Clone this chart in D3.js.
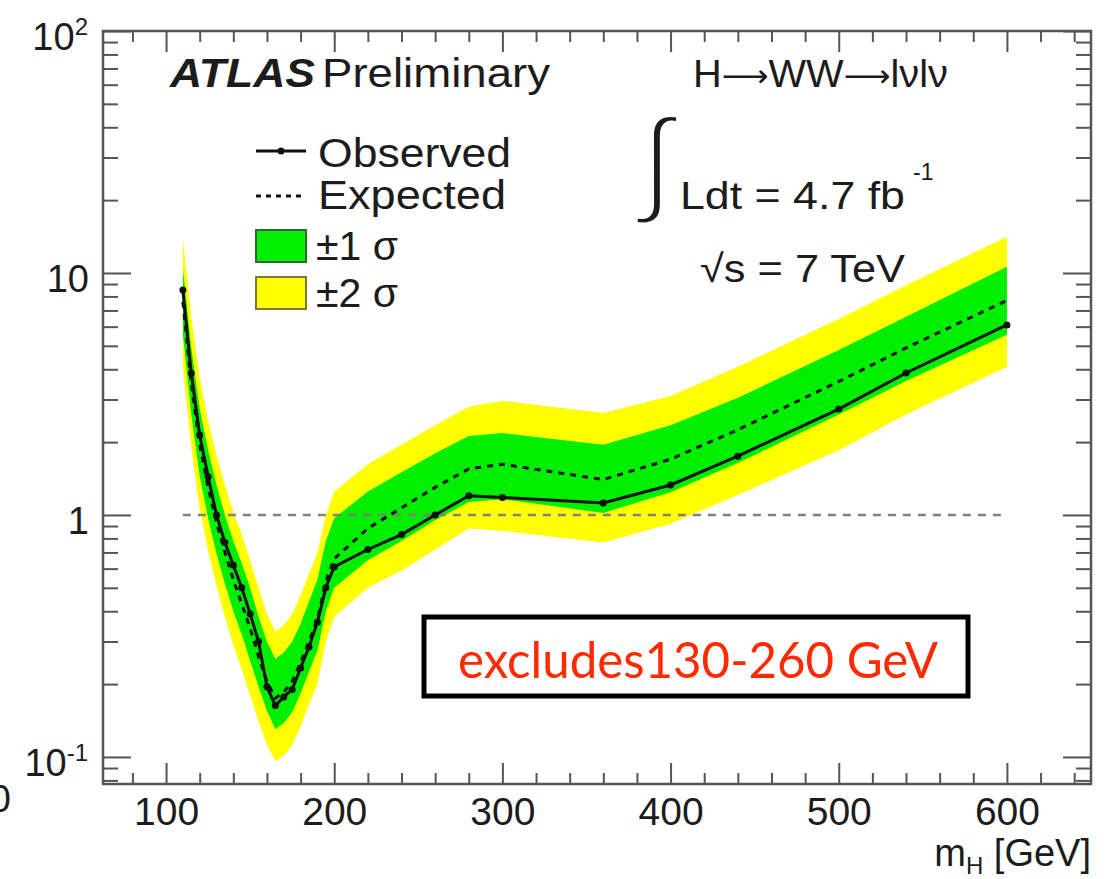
<!DOCTYPE html>
<html>
<head>
<meta charset="utf-8">
<script src="https://cdn.jsdelivr.net/npm/d3@7"></script>
<style>
  body { margin: 0; background: #fff; }
  svg { display: block; }
  text { font-family: "Liberation Sans", Arial, Helvetica, sans-serif; fill: #1c1c1c; }
</style>
</head>
<body>
<svg id="chart" width="1108" height="879"></svg>
<script>
// Higgs mass hypotheses [GeV]
const massPoints = [110, 115, 120, 125, 130, 135, 140, 145, 150, 155, 160, 165, 170, 175, 180, 185, 190, 195, 200,
                    220, 240, 260, 280, 300, 360, 400, 440, 500, 540, 600];
// 95% CL upper limit on sigma/sigma_SM, observed
const observed = [8.5, 3.85, 2.14, 1.44, 1.0, 0.77, 0.62, 0.50, 0.39, 0.30, 0.195, 0.163, 0.177, 0.19, 0.233, 0.285, 0.36, 0.50, 0.61,
                  0.72, 0.83, 1.0, 1.2, 1.18, 1.12, 1.33, 1.75, 2.74, 3.86, 6.1];
// median expected limit
const expected = [7.6, 3.5, 1.95, 1.3, 0.93, 0.70, 0.54, 0.43, 0.34, 0.26, 0.205, 0.175, 0.185, 0.205, 0.245, 0.30, 0.37, 0.53, 0.66,
                  0.88, 1.07, 1.30, 1.55, 1.62, 1.40, 1.70, 2.25, 3.56, 4.9, 7.7];
// expected +/- 1 sigma band
const sigma1Up   = [10.4, 4.9, 2.75, 1.85, 1.33, 1.0, 0.78, 0.63, 0.50, 0.38, 0.30, 0.254, 0.27, 0.30, 0.355, 0.44, 0.54, 0.78, 0.97,
                    1.25, 1.50, 1.80, 2.12, 2.18, 1.95, 2.35, 3.05, 4.8, 6.6, 10.6];
const sigma1Down = [5.6, 2.6, 1.45, 0.97, 0.69, 0.52, 0.40, 0.32, 0.25, 0.195, 0.155, 0.130, 0.138, 0.153, 0.183, 0.225, 0.275, 0.40, 0.50,
                    0.65, 0.78, 0.95, 1.13, 1.16, 1.02, 1.24, 1.64, 2.6, 3.58, 5.55];
// expected +/- 2 sigma band
const sigma2Up   = [13.9, 6.6, 3.7, 2.45, 1.76, 1.33, 1.03, 0.83, 0.65, 0.50, 0.39, 0.33, 0.35, 0.39, 0.465, 0.57, 0.70, 1.0, 1.25,
                    1.62, 1.95, 2.35, 2.80, 2.96, 2.64, 3.1, 4.1, 6.45, 8.9, 14.1];
const sigma2Down = [4.1, 1.9, 1.06, 0.71, 0.51, 0.38, 0.29, 0.23, 0.18, 0.14, 0.112, 0.096, 0.101, 0.112, 0.134, 0.165, 0.20, 0.30, 0.38,
                    0.50, 0.59, 0.72, 0.88, 0.86, 0.77, 0.92, 1.21, 1.85, 2.6, 4.1];

// axis tick labels
const xTickLabels = [100, 200, 300, 400, 500, 600];
const yTickLabels = [
  { value: 0.1, base: "10", sup: "-1" },
  { value: 1,   base: "1",  sup: "" },
  { value: 10,  base: "10", sup: "" },
  { value: 100, base: "10", sup: "2" }
];

const svg = d3.select("#chart");
const frame = { left: 103, right: 1091, top: 31, bottom: 784 };

const x = d3.scaleLinear().domain([62.5, 650]).range([frame.left, frame.right]);
const y = d3.scaleLog().domain([0.0773, 100]).range([frame.bottom, frame.top]);

const rows = massPoints.map((m, i) => ({
  m, obs: observed[i], exp: expected[i],
  u1: sigma1Up[i], d1: sigma1Down[i], u2: sigma2Up[i], d2: sigma2Down[i]
}));

const GREEN = "#00ee00", YELLOW = "#ffff00";

// bands
const plot = svg.append("g");
plot.append("path").datum(rows)
  .attr("fill", YELLOW)
  .attr("d", d3.area().x(d => x(d.m)).y0(d => y(d.d2)).y1(d => y(d.u2)));
plot.append("path").datum(rows)
  .attr("fill", GREEN)
  .attr("d", d3.area().x(d => x(d.m)).y0(d => y(d.d1)).y1(d => y(d.u1)));

// reference line at sigma/sigma_SM = 1
plot.append("line")
  .attr("x1", x(massPoints[0])).attr("x2", x(massPoints[massPoints.length - 1]))
  .attr("y1", y(1)).attr("y2", y(1))
  .attr("stroke", "#808080").attr("stroke-width", 2.5).attr("stroke-dasharray", "8,7");

// expected limit
plot.append("path").datum(rows)
  .attr("fill", "none").attr("stroke", "#111").attr("stroke-width", 3)
  .attr("stroke-dasharray", "6,6")
  .attr("d", d3.line().x(d => x(d.m)).y(d => y(d.exp)));

// observed limit
plot.append("path").datum(rows)
  .attr("fill", "none").attr("stroke", "#111").attr("stroke-width", 3)
  .attr("d", d3.line().x(d => x(d.m)).y(d => y(d.obs)));
plot.selectAll("circle.obs").data(rows).enter().append("circle")
  .attr("class", "obs")
  .attr("cx", d => x(d.m)).attr("cy", d => y(d.obs)).attr("r", 3.5)
  .attr("fill", "#111");

// axes: ticks drawn inward, ROOT style
const xMinor = d3.range(80, 650, 20).filter(v => v % 100 !== 0);
const yMinor = [0.01, 0.1, 1, 10]
  .flatMap(d => d3.range(2, 10).map(k => +(k * d).toPrecision(3)))
  .filter(v => v >= 0.0773 && v < 100);

function styleAxis(g) {
  g.select(".domain").remove();
  g.selectAll(".tick line").attr("stroke", "#555").attr("stroke-width", 2);
  g.selectAll(".tick text")
    .style("font-family", '"Liberation Sans", Arial, sans-serif')
    .style("font-size", "39px").attr("fill", "#1c1c1c");
}

svg.append("g").attr("transform", `translate(0,${frame.bottom})`)
  .call(d3.axisBottom(x).tickValues(xTickLabels).tickSize(-21).tickSizeOuter(0).tickPadding(13).tickFormat(d3.format("d")))
  .call(styleAxis);
svg.append("g").attr("transform", `translate(0,${frame.bottom})`)
  .call(d3.axisBottom(x).tickValues(xMinor).tickSize(-11).tickSizeOuter(0).tickFormat(""))
  .call(styleAxis);
svg.append("g").attr("transform", `translate(0,${frame.top})`)
  .call(d3.axisTop(x).tickValues(xTickLabels).tickSize(-21).tickSizeOuter(0).tickFormat(""))
  .call(styleAxis);
svg.append("g").attr("transform", `translate(0,${frame.top})`)
  .call(d3.axisTop(x).tickValues(xMinor).tickSize(-11).tickSizeOuter(0).tickFormat(""))
  .call(styleAxis);

const yMajor = yTickLabels.map(d => d.value);
svg.append("g").attr("transform", `translate(${frame.left},0)`)
  .call(d3.axisLeft(y).tickValues(yMajor).tickSize(-28).tickSizeOuter(0).tickFormat(""))
  .call(styleAxis);
svg.append("g").attr("transform", `translate(${frame.left},0)`)
  .call(d3.axisLeft(y).tickValues(yMinor).tickSize(-15).tickSizeOuter(0).tickFormat(""))
  .call(styleAxis);
svg.append("g").attr("transform", `translate(${frame.right},0)`)
  .call(d3.axisRight(y).tickValues(yMajor).tickSize(-28).tickSizeOuter(0).tickFormat(""))
  .call(styleAxis);
svg.append("g").attr("transform", `translate(${frame.right},0)`)
  .call(d3.axisRight(y).tickValues(yMinor).tickSize(-15).tickSizeOuter(0).tickFormat(""))
  .call(styleAxis);

// frame
svg.append("rect")
  .attr("x", frame.left).attr("y", frame.top)
  .attr("width", frame.right - frame.left).attr("height", frame.bottom - frame.top)
  .attr("fill", "none").attr("stroke", "#555").attr("stroke-width", 2.5);

// y tick labels with exponents
const yl = svg.append("g");
yTickLabels.forEach(t => {
  const txt = yl.append("text")
    .attr("x", t.sup ? 88 : 89).attr("y", y(t.value) + 19)
    .attr("text-anchor", "end").style("font-size", "38px");
  txt.append("tspan").text(t.base);
  if (t.sup) {
    txt.append("tspan").attr("dy", -15).style("font-size", "24px").text(t.sup);
  }
});
// clipped label at the left edge
svg.append("text").attr("x", 11).attr("y", 812).attr("text-anchor", "end")
  .style("font-size", "38px").text("0");

// x axis title
const xt = svg.append("text").attr("x", frame.right).attr("y", 866)
  .attr("text-anchor", "end").style("font-size", "38px");
xt.append("tspan").text("m");
xt.append("tspan").attr("dy", 8).style("font-size", "24px").text("H");
xt.append("tspan").attr("dy", -8).text(" [GeV]");

function label(str, xPos, yPos, size, len, extra) {
  const t = svg.append("text").attr("x", xPos).attr("y", yPos)
    .style("font-size", size + "px").text(str);
  if (len) t.attr("textLength", len).attr("lengthAdjust", "spacingAndGlyphs");
  if (extra) extra(t);
  return t;
}

// header
label("ATLAS", 170, 87, 40, 145, t => t.style("font-weight", "bold").style("font-style", "italic"));
label("Preliminary", 322, 87, 40, 228);

// process label with long arrows
const proc = svg.append("text").attr("x", 693).attr("y", 87).style("font-size", "39px")
  .attr("textLength", 255).attr("lengthAdjust", "spacingAndGlyphs");
proc.append("tspan").text("H");
proc.append("tspan").style("font-family", '"DejaVu Sans", sans-serif').style("font-size", "32px").text("\u27f6");
proc.append("tspan").text("WW");
proc.append("tspan").style("font-family", '"DejaVu Sans", sans-serif').style("font-size", "32px").text("\u27f6");
proc.append("tspan").text("l\u03bdl\u03bd");

// luminosity and energy: a thin integral sign (white outline slims the glyph)
label("\u222b", 641, 200, 116, null, t => t
  .style("font-family", '"DejaVu Sans", sans-serif').style("font-weight", "200")
  .attr("stroke", "#fff").attr("stroke-width", 4.5).attr("paint-order", "fill"));
label("Ldt = 4.7 fb", 680, 209, 39, 225);
label("-1", 913, 180, 23, null);
label("\u221as = 7 TeV", 700, 282, 39, 205);

// legend
const leg = svg.append("g");
leg.append("line").attr("x1", 256).attr("x2", 306).attr("y1", 151).attr("y2", 151)
  .attr("stroke", "#111").attr("stroke-width", 3);
leg.append("circle").attr("cx", 281).attr("cy", 151).attr("r", 3.5).attr("fill", "#111");
leg.append("line").attr("x1", 256).attr("x2", 306).attr("y1", 196).attr("y2", 196)
  .attr("stroke", "#111").attr("stroke-width", 3).attr("stroke-dasharray", "5,5");
leg.append("rect").attr("x", 256).attr("y", 230).attr("width", 50).attr("height", 32)
  .attr("fill", GREEN).attr("stroke", "#2b6b2b").attr("stroke-width", 2);
leg.append("rect").attr("x", 256).attr("y", 277).attr("width", 50).attr("height", 32)
  .attr("fill", YELLOW).attr("stroke", "#7a7a30").attr("stroke-width", 2);
label("Observed", 318, 167, 40, 193);
label("Expected", 318, 209, 40, 188);
label("\u00b11 \u03c3", 316, 260, 40, 82);
label("\u00b12 \u03c3", 316, 307, 40, 82);

// annotation box
svg.append("rect").attr("x", 424).attr("y", 617).attr("width", 544).attr("height", 79)
  .attr("fill", "#fff").attr("stroke", "#000").attr("stroke-width", 5);
label("excludes130-260 GeV", 458, 678, 50, 480,
  t => t.style("font-family", 'Lato, "Open Sans", sans-serif').attr("fill", "#ff2a00").style("fill", "#ff2a00"));
</script>
</body>
</html>
